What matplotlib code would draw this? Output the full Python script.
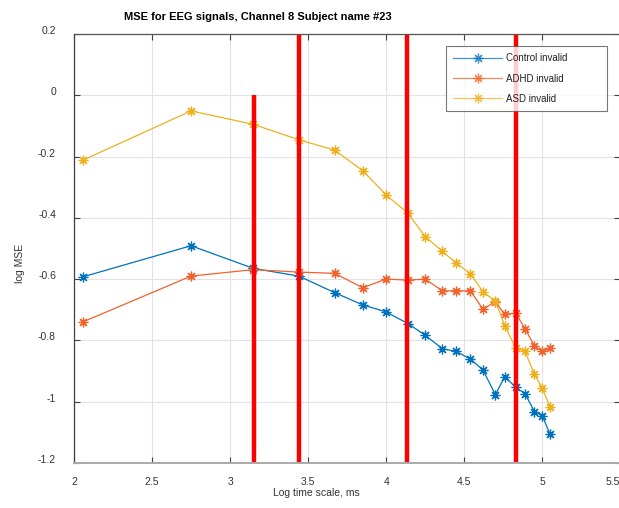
import numpy as np
import matplotlib.pyplot as plt
import matplotlib.transforms as mtransforms

plt.rcParams['font.family'] = ['Liberation Sans', 'DejaVu Sans']

# Log time scale values (x)
scale_x = [2.06, 2.75, 3.15, 3.44, 3.67, 3.85, 4.00, 4.14, 4.25, 4.36,
           4.45, 4.54, 4.62, 4.70, 4.76, 4.83, 4.89, 4.95, 5.00, 5.05]

control = [-0.592, -0.491, -0.565, -0.590, -0.644, -0.684, -0.707, -0.745, -0.783, -0.827,
           -0.836, -0.861, -0.896, -0.977, -0.918, -0.953, -0.974, -1.032, -1.045, -1.106]
adhd = [-0.739, -0.590, -0.569, -0.577, -0.581, -0.628, -0.600, -0.603, -0.600, -0.638,
        -0.638, -0.638, -0.698, -0.674, -0.715, -0.711, -0.762, -0.818, -0.836, -0.825]
asd = [-0.211, -0.051, -0.095, -0.145, -0.179, -0.246, -0.325, -0.385, -0.461, -0.509,
       -0.548, -0.582, -0.641, -0.672, -0.752, -0.825, -0.836, -0.910, -0.956, -1.016]

labels = ['Control invalid', 'ADHD invalid', 'ASD invalid']
colors = ['#0072BD', '#F2622B', '#EDB120']

# red markers: x position, top (all start at the bottom)
red_x = [3.155, 3.44, 4.135, 4.83]
red_top = [0.0, 0.2, 0.2, 0.2]

xticks = [2, 2.5, 3, 3.5, 4, 4.5, 5, 5.5]
yticks = [-1.2, -1, -0.8, -0.6, -0.4, -0.2, 0, 0.2]

fig = plt.figure(figsize=(6.19, 5.08), dpi=100)
ax = fig.add_axes([74/619, 1 - 463/508, 1 - 74/619 + 0.002, (463 - 34)/508])

# matlab style asterisk
star = (8, 2, 0)
for ys, lab, c in zip([control, adhd, asd], labels, colors):
    ax.plot(scale_x, ys, '-', marker=star, color=c, lw=0.9, ms=7, mew=0.9, label=lab)

for xr, top in zip(red_x, red_top):
    ax.plot([xr, xr], [-1.2, top], color='red', lw=3.2, solid_capstyle='butt')

ax.set_xlim(2, 5.5)
ax.set_ylim(-1.2, 0.2)
ax.set_xticks(xticks)
ax.set_xticklabels(['2', '2.5', '3', '3.5', '4', '4.5', '5', '5.5'])
ax.set_yticks(yticks)
ax.set_yticklabels(['-1.2', '-1', '-0.8', '-0.6', '-0.4', '-0.2', '0', '0.2'])
ax.grid(True, color='#e3e3e3', lw=0.8)
ax.set_axisbelow(True)
ax.tick_params(direction='in', length=4, width=0.8, color='#404040',
               labelsize=7.5, labelcolor='#333333', top=True, right=True)
ax.tick_params(axis='y', pad=13)
ax.tick_params(axis='x', pad=10)
for lbl in ax.get_yticklabels():
    lbl.set_transform(lbl.get_transform() + mtransforms.ScaledTranslation(0, 4/100, fig.dpi_scale_trans))
# last x label sits at the edge, nudge it in
xl = ax.get_xticklabels()[-1]
xl.set_transform(xl.get_transform() + mtransforms.ScaledTranslation(-7/100, 0, fig.dpi_scale_trans))
for sp in ax.spines.values():
    sp.set_color('#555555')
    sp.set_linewidth(0.9)
ax.spines['left'].set_color('#404040')
ax.spines['bottom'].set_color('#aaaaaa')
ax.spines['bottom'].set_linewidth(1.4)

leg = ax.legend(loc='upper left', bbox_to_anchor=(446/619, 1 - 113/508, 161/619, 67/508),
                bbox_transform=fig.transFigure, mode='expand',
                fontsize=7, frameon=True, fancybox=False, edgecolor='#555555',
                handlelength=5.0, borderpad=0.75, labelspacing=1.05, handletextpad=0.4,
                borderaxespad=0)
leg.get_frame().set_linewidth(0.8)
for t in leg.get_texts():
    t.set_color('#222222')
for h in leg.get_lines():
    h.set_alpha(0.75)

fig.text(258/619, 1 - 17/508, 'MSE for EEG signals, Channel 8 Subject name #23',
         ha='center', va='center', fontsize=8, fontweight='bold')
fig.text(316/619, 1 - 493/508, 'Log time scale, ms', ha='center', va='center',
         fontsize=7.5, color='#333333')
fig.text(20/619, 1 - 263/508, 'log MSE', ha='center', va='center', rotation=90,
         fontsize=7.5, color='#333333')

fig.savefig('out.png', dpi=100)
